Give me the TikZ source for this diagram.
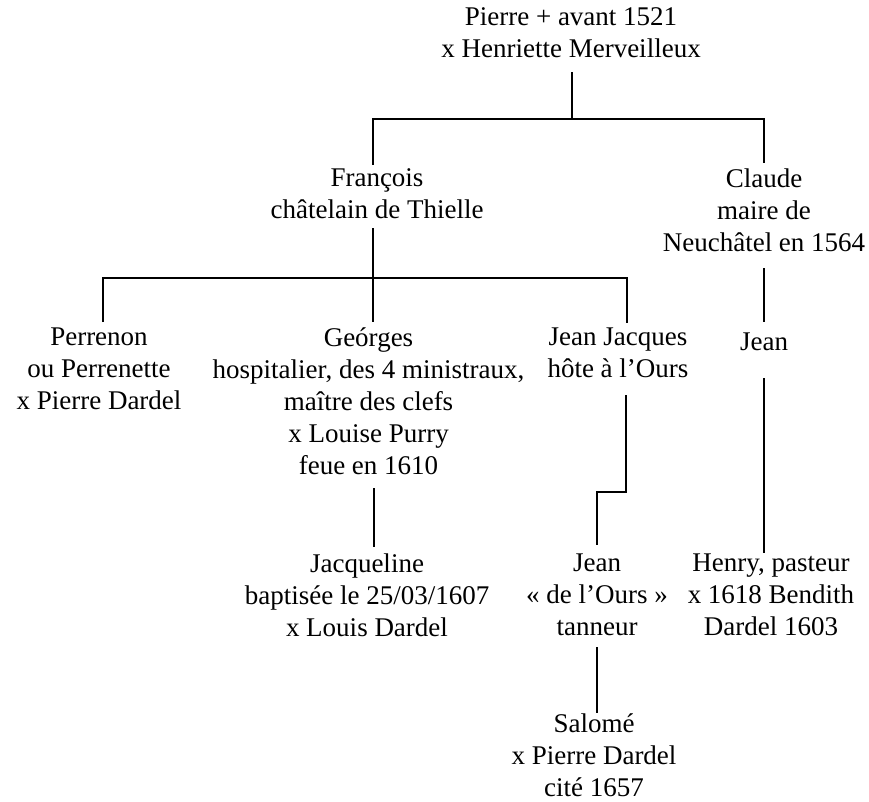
\documentclass[tikz,border=0pt]{standalone}
\usepackage{fontspec}
\setmainfont{Liberation Serif}
\begin{document}
\begin{tikzpicture}[x=1pt, y=-1pt,
  person/.style={anchor=north, align=center, inner sep=0pt, outer sep=0pt,
    font=\fontsize{27}{32}\selectfont,
    execute at begin node=\strut, execute at end node=\strut},
  link/.style={line width=1.6pt, line cap=butt, line join=miter}]
  % page
  \fill[white] (0,0) rectangle (869,802);
  \useasboundingbox (0,0) rectangle (869,802);

  % generation 1
  \node[person] (pierre) at (571,7.6) {Pierre + avant 1521\\x Henriette Merveilleux};
  % generation 2
  \node[person] (francois) at (377,168.6) {François\\châtelain de Thielle};
  \node[person] (claude) at (764,168.6) {Claude\\maire de\\Neuchâtel en 1564};
  % generation 3
  \node[person] (perrenon) at (99,327.6) {Perrenon\\ou Perrenette\\x Pierre Dardel};
  \node[person] (georges) at (368.5,327.6) {Geórges\\hospitalier, des 4 ministraux,\\maître des clefs\\x Louise Purry\\feue en 1610};
  \node[person] (jeanjacques) at (618,327.6) {Jean Jacques\\hôte à l’Ours};
  \node[person] (jeanA) at (764,327.6) {Jean};
  % generation 4
  \node[person] (jacqueline) at (367,553.6) {Jacqueline\\baptisée le 25/03/1607\\x Louis Dardel};
  \node[person] (jeanB) at (597,553.6) {Jean\\«~de l’Ours~»\\tanneur};
  \node[person] (henry) at (771,553.6) {Henry, pasteur\\x 1618 Bendith\\Dardel 1603};
  % generation 5
  \node[person] (salome) at (594,713.6) {Salomé\\x Pierre Dardel\\cité 1657};

  % levels of the sibling bars
  \coordinate (bar1) at (0,119);
  \coordinate (bar2) at (0,278);
  \coordinate (jjbend) at (0,492);

  % connector ends next to the names
  \coordinate (pierre-out) at ([xshift=1pt,yshift=-5.4pt]pierre.south);
  \coordinate (francois-in) at ([xshift=-4pt,yshift=3.6pt]francois.north);
  \coordinate (francois-out) at ([xshift=-4pt]francois.south);
  \coordinate (claude-in) at ([yshift=5.6pt]claude.north);
  \coordinate (claude-out) at ([yshift=-7.4pt]claude.south);
  \coordinate (perrenon-in) at ([xshift=4pt,yshift=5.6pt]perrenon.north);
  \coordinate (georges-in) at ([xshift=4.5pt,yshift=5.6pt]georges.north);
  \coordinate (georges-out) at ([xshift=5.5pt,yshift=-4.4pt]georges.south);
  \coordinate (jeanjacques-in) at ([xshift=9pt,yshift=4.6pt]jeanjacques.north);
  \coordinate (jeanjacques-out) at ([xshift=8pt,yshift=-8.4pt]jeanjacques.south);
  \coordinate (jeanA-in) at ([yshift=5.6pt]jeanA.north);
  \coordinate (jeanA-out) at ([yshift=-18.4pt]jeanA.south);
  \coordinate (jacqueline-in) at ([xshift=7pt,yshift=6.6pt]jacqueline.north);
  \coordinate (jeanB-in) at ([yshift=8.6pt]jeanB.north);
  \coordinate (jeanB-out) at ([yshift=-2.4pt]jeanB.south);
  \coordinate (henry-in) at ([xshift=-7pt,yshift=0.6pt]henry.north);
  \coordinate (salome-in) at ([xshift=3pt,yshift=0.6pt]salome.north);

  % Pierre's children
  \draw[link] (pierre-out) -- (pierre-out |- bar1);
  \draw[link] (francois-in) |- (claude-in |- bar1) -- (claude-in);
  % François's children
  \draw[link] (francois-out) -- (georges-in);
  \draw[link] (perrenon-in) |- (jeanjacques-in |- bar2) -- (jeanjacques-in);
  % Claude's line
  \draw[link] (claude-out) -- (jeanA-in);
  \draw[link] (jeanA-out) -- (henry-in);
  % Georges and Jean Jacques
  \draw[link] (georges-out) -- (jacqueline-in);
  \draw[link] (jeanjacques-out) |- (jjbend -| jeanB-in) -- (jeanB-in);
  % Jean de l'Ours
  \draw[link] (jeanB-out) -- (salome-in);
\end{tikzpicture}
\end{document}
